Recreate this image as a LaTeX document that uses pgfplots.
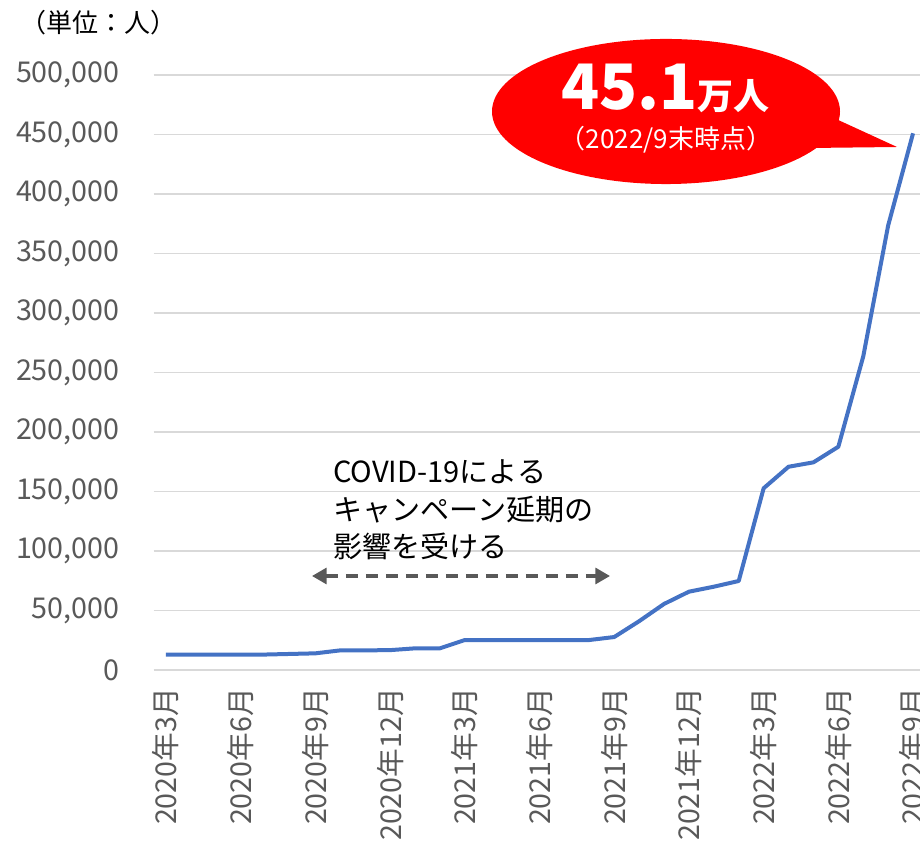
\documentclass[border=0pt]{standalone}
\usepackage{pgfplots}
\pgfplotsset{compat=1.18}
\usepackage{fontspec}
\setmainfont{Noto Sans CJK JP}
\usetikzlibrary{arrows.meta}
\definecolor{lineblue}{HTML}{4472C4}
\definecolor{gridgray}{HTML}{D9D9D9}
\definecolor{labelgray}{HTML}{595959}
\definecolor{callred}{HTML}{FF0000}
\begin{document}
\begin{tikzpicture}
\path[use as bounding box] (0pt,0pt) rectangle (690pt,645pt);
\begin{axis}[
  at={(115.125pt,142.5pt)}, anchor=south west,
  scale only axis, width=579pt, height=446.25pt,
  xmin=-0.5, xmax=30.5, ymin=0, ymax=500000,
  axis line style={draw=none},
  major tick length=0pt,
  ymajorgrids, grid style={gridgray, line width=1.1pt},
  ytick={0,50000,100000,150000,200000,250000,300000,350000,400000,450000,500000},
  yticklabels={0,{50,000},{100,000},{150,000},{200,000},{250,000},{300,000},{350,000},{400,000},{450,000},{500,000}},
  scaled y ticks=false,
  yticklabel shift=22pt,
  xtick={0,3,...,30},
  xticklabels={2020年3月,2020年6月,2020年9月,2020年12月,2021年3月,2021年6月,2021年9月,2021年12月,2022年3月,2022年6月,2022年9月},
  xticklabel style={rotate=90, anchor=east},
  xticklabel shift=10pt,
  tick label style={font=\fontsize{21.5}{24}\selectfont, text=labelgray},
  clip=false,
]
\addplot[lineblue, line width=3pt, line join=round] coordinates {
(0,13000) (1,13000) (2,13000) (3,13000) (4,13000) (5,13500) (6,14000)
(7,16500) (8,16500) (9,16700) (10,18200) (11,18200) (12,25200)
(13,25200) (14,25200) (15,25200) (16,25200) (17,25200) (18,27700)
(19,41000) (20,55500) (21,65800) (22,70000) (23,74800)
(24,152700) (25,170800) (26,174500) (27,187600)
(28,263500) (29,373500) (30,451000)
};
\end{axis}
% unit label
\node[anchor=base, font=\fontsize{19.5}{22}\selectfont] at (74.25pt,620.25pt) {（単位：人）};
% annotation
\node[anchor=base west, font=\fontsize{21.8}{24}\selectfont] at (246.5pt,282.75pt) {COVID-19による};
\node[anchor=base west, font=\fontsize{21.8}{24}\selectfont] at (246.5pt,254.25pt) {キャンペーン延期の};
\node[anchor=base west, font=\fontsize{21.8}{24}\selectfont] at (246.5pt,226.5pt) {影響を受ける};
\draw[labelgray, line width=2.4pt, dash pattern=on 9pt off 6pt,
  {Triangle[length=11pt,width=12pt]}-{Triangle[length=11pt,width=12pt]}]
  (234pt,213pt) -- (457.5pt,213pt);
% callout
\fill[callred] (627pt,555.75pt) -- (672.75pt,534.75pt) -- (607.5pt,534pt) -- cycle;
\fill[callred] (499.5pt,561.375pt) ellipse [x radius=130.5pt, y radius=54.4pt];
\node[anchor=base, text=white, inner sep=0pt] at (499pt,562.5pt)
  {{\fontsize{47}{47}\selectfont\bfseries 45.1}{\fontsize{27}{27}\selectfont\bfseries 万人}};
\node[anchor=base, text=white, inner sep=0pt, font=\fontsize{19.5}{22}\selectfont] at (499.5pt,533.25pt) {（2022/9末時点）};
\end{tikzpicture}
\end{document}
